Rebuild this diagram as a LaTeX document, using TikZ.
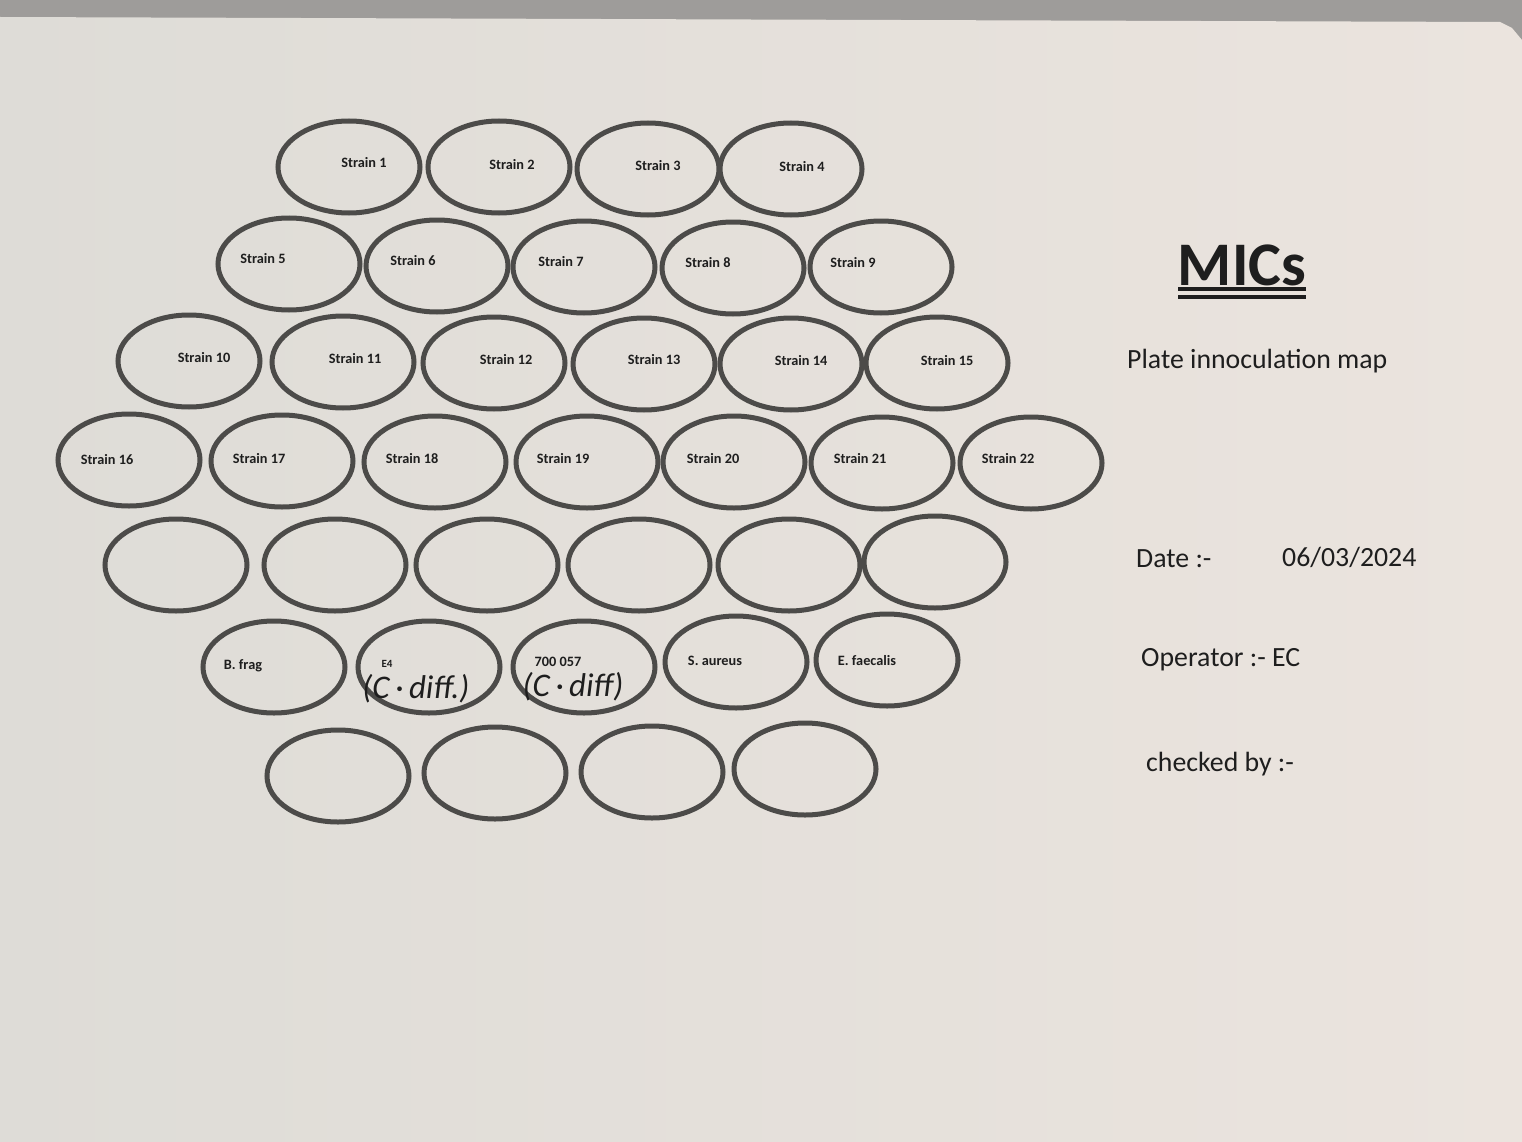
\documentclass[tikz,border=0pt]{standalone}
\usepackage{fontspec}
\setmainfont{Carlito}
\usetikzlibrary{shapes.geometric}
\definecolor{bgtop}{HTML}{9E9C9A}
\definecolor{paperL}{HTML}{DEDCD7}
\definecolor{paperR}{HTML}{EBE4DE}
\definecolor{ring}{HTML}{4C4B49}
\definecolor{ink}{HTML}{1E1E1E}
\tikzset{
  well/.style={ellipse, draw=ring, line width=5pt, minimum width=142pt, minimum height=92pt, inner sep=0pt},
  lab/.style={font=\bfseries\fontsize{14.3}{16}\selectfont, text=ink, inner sep=0pt},
  hand/.style={font=\itshape\fontsize{33}{36}\selectfont, text=ink, inner sep=0pt},
  info/.style={font=\fontsize{27.8}{32}\selectfont, text=ink, inner sep=0pt, anchor=west}
}
\begin{document}
\begin{tikzpicture}[x=1pt,y=-1pt]
\useasboundingbox (0,0) rectangle (1522,1142);
\fill[bgtop] (0,0) rectangle (1522,1142);
\shade[left color=paperL, right color=paperR] (0,17) -- (1500,22) -- (1512,28) -- (1522,40) -- (1522,1142) -- (0,1142) -- cycle;
% row 1
\node[well] (w1) at (349,167) {};
\node[well] (w2) at (499,167) {};
\node[well] (w3) at (648,169) {};
\node[well] (w4) at (791,169) {};
% row 2
\node[well] (w5) at (289,264) {};
\node[well] (w6) at (437,266) {};
\node[well] (w7) at (584,267) {};
\node[well] (w8) at (733,268) {};
\node[well] (w9) at (881,267) {};
% row 3
\node[well] (w10) at (189,361) {};
\node[well] (w11) at (343,362) {};
\node[well] (w12) at (494,363) {};
\node[well] (w13) at (644,364) {};
\node[well] (w14) at (791,364) {};
\node[well] (w15) at (937,363) {};
% row 4
\node[well] (w16) at (129,460) {};
\node[well] (w17) at (282,461) {};
\node[well] (w18) at (435,462) {};
\node[well] (w19) at (587,462) {};
\node[well] (w20) at (734,462) {};
\node[well] (w21) at (882,463) {};
\node[well] (w22) at (1031,463) {};
% row 5
\node[well] (e1) at (176,565) {};
\node[well] (e2) at (335,565) {};
\node[well] (e3) at (487,565) {};
\node[well] (e4) at (639,565) {};
\node[well] (e5) at (789,565) {};
\node[well] (e6) at (935,562) {};
% row 6
\node[well] (c1) at (274,667) {};
\node[well] (c2) at (429,667) {};
\node[well] (c3) at (584,667) {};
\node[well] (c4) at (736,662) {};
\node[well] (c5) at (887,660) {};
% row 7
\node[well] (f1) at (338,776) {};
\node[well] (f2) at (495,773) {};
\node[well] (f3) at (652,772) {};
\node[well] (f4) at (805,769) {};
% labels
\node[lab] (t1) at (364,163) {Strain 1};
\node[lab] (t2) at (512,165) {Strain 2};
\node[lab] (t3) at (658,166) {Strain 3};
\node[lab] (t4) at (802,167) {Strain 4};
\node[lab] (t5) at (263,259) {Strain 5};
\node[lab] (t6) at (413,261) {Strain 6};
\node[lab] (t7) at (561,262) {Strain 7};
\node[lab] (t8) at (708,263) {Strain 8};
\node[lab] (t9) at (853,263) {Strain 9};
\node[lab] (t10) at (204,358) {Strain 10};
\node[lab] (t11) at (355,359) {Strain 11};
\node[lab] (t12) at (506,360) {Strain 12};
\node[lab] (t13) at (654,360) {Strain 13};
\node[lab] (t14) at (801,361) {Strain 14};
\node[lab] (t15) at (947,361) {Strain 15};
\node[lab] (t16) at (107,460) {Strain 16};
\node[lab] (t17) at (259,459) {Strain 17};
\node[lab] (t18) at (412,459) {Strain 18};
\node[lab] (t19) at (563,459) {Strain 19};
\node[lab] (t20) at (713,459) {Strain 20};
\node[lab] (t21) at (860,459) {Strain 21};
\node[lab] (t22) at (1008,459) {Strain 22};
\node[lab] (tb) at (243,666) {B. frag};
\node[lab, font=\bfseries\fontsize{11}{12}\selectfont] (te4) at (387,664) {E4};
\node[hand] (h1) at (416,689) {(C\,·\,diff.)};
\node[lab] (t7057) at (558,662) {700 057};
\node[hand] (h2) at (573,687) {(C\,·\,diff)};
\node[lab] (tsa) at (715,661) {S. aureus};
\node[lab] (tef) at (867,661) {E. faecalis};
% title block
\node[font=\bfseries\fontsize{62}{64}\selectfont, text=ink, inner sep=0pt] (mic) at (1242,265) {MICs};
\draw[ink, line width=3.5pt] (1178,289) -- (1306,289);
\draw[ink, line width=3.5pt] (1178,297) -- (1306,297);
\node[info] (plate) at (1127,361) {Plate innoculation map};
\node[info] (date) at (1136,559) {Date :-};
\node[info] (dval) at (1282,557) {06/03/2024};
\node[info] (oper) at (1141,660) {Operator :- EC};
\node[info] (chk) at (1146,764) {checked by :-};
\end{tikzpicture}
\end{document}
